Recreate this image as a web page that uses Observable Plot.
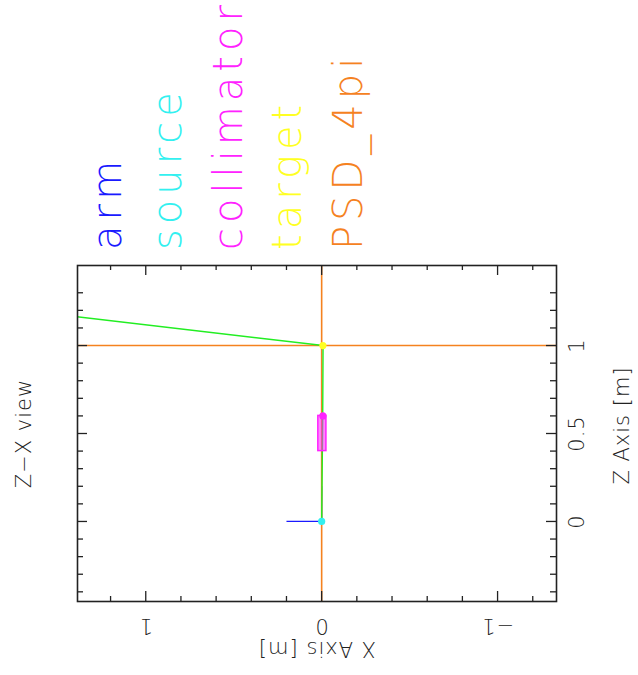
<!DOCTYPE html>
<html>
<head>
<meta charset="utf-8">
<script src="https://cdn.jsdelivr.net/npm/d3@7"></script>
<script src="https://cdn.jsdelivr.net/npm/@observablehq/plot@0.6"></script>
<style>
  body { margin: 0; background: #fff; }
  #wrap { width: 638px; }
  #legend { position: relative; height: 258px; width: 638px; overflow: hidden; }
  #legend span {
    position: absolute; top: 250px; transform-origin: 0 0; transform: rotate(-90deg);
    font-family: "DejaVu Sans", sans-serif; font-weight: 200; font-size: 40px;
    line-height: 1; white-space: nowrap; letter-spacing: 5px;
  }
  #chart svg text { letter-spacing: 1px; }
</style>
</head>
<body>
<div id="wrap">
  <div id="legend"></div>
  <div id="chart"></div>
</div>
<script>
// Components (legend order) and colours
const components = ["arm", "source", "collimator", "target", "PSD_4pi"];
const compColors = ["#1a1aff", "#33f0f0", "#ff22ff", "#ffff22", "#f5821f"];

// Component position dots (X, Z) in metres
const dotNames = ["source", "collimator", "target"];
const dotX = [0, -0.007, -0.007];
const dotZ = [0, 0.6, 1];

// Arm axis segments (from origin)
const armX2 = [0.2, 0];
const armZ2 = [0, 0.2];

// Collimator box
const colX = [0.019, -0.027];
const colZ = [0.4, 0.6];

// PSD_4pi lines
const psdX = [0];
const psdZ = [1];

// Neutron ray
const rayX = [0, -0.006, -0.008, 1.5];
const rayZ = [0, 0.6, 1, 1.176];

// Ticks
const xMajor = [-1, 0, 1];
const xMinor = [-1.2, -0.8, -0.6, -0.4, -0.2, 0.2, 0.4, 0.6, 0.8, 1.2];
const xLabels = ["−1", "0", "1"];
const zMajor = [0, 0.5, 1];
const zMinor = [-0.4, -0.3, -0.2, -0.1, 0.1, 0.2, 0.3, 0.4, 0.6, 0.7, 0.8, 0.9, 1.1, 1.2, 1.3];
const zLabels = ["0", "0.5", "1"];

// Legend (HTML, rotated)
const legendBase = [87, 147, 208, 267, 328];
const legend = document.getElementById("legend");
components.forEach((c, i) => {
  const s = document.createElement("span");
  s.textContent = c;
  s.style.color = compColors[i];
  s.style.left = legendBase[i] + "px";
  legend.appendChild(s);
});

const colorOf = n => compColors[components.indexOf(n)];
const dots = dotNames.map((n, i) => ({n, x: dotX[i], z: dotZ[i]}));
const arm = armX2.map((x, i) => ({x, z: armZ2[i]}));
const ray = rayX.map((x, i) => ({x, z: rayZ[i]}));

const W = 638, H = 417, mL = 77, mR = 82, mT = 7, mB = 74;
const fw = W - mL - mR, fh = H - mT - mB;
const ink = "#222";
const font = "\"DejaVu Sans\", sans-serif";
const lab = {fontSize: 21, fontWeight: 200, fill: ink, textAnchor: "middle", lineAnchor: "middle"};

const chart = Plot.plot({
  width: W, height: H,
  marginLeft: mL, marginRight: mR, marginTop: mT, marginBottom: mB,
  x: {domain: [1.388, -1.335], axis: null},
  y: {domain: [-0.455, 1.455], axis: null},
  style: {fontFamily: font, background: "#fff", overflow: "visible"},
  marks: [
    Plot.link(arm, {x1: 0, y1: 0, x2: "x", y2: "z", stroke: colorOf("arm"), strokeWidth: 1.3}),
    Plot.ruleX(psdX, {x: d => d, stroke: colorOf("PSD_4pi"), strokeWidth: 1.6}),
    Plot.ruleY(psdZ, {y: d => d, stroke: colorOf("PSD_4pi"), strokeWidth: 1.6}),
    Plot.line(ray, {x: "x", y: "z", stroke: "#22ee22", strokeWidth: 1.4, clip: "frame"}),
    Plot.rect([0], {x1: colX[0], x2: colX[1], y1: colZ[0], y2: colZ[1],
      fill: colorOf("collimator"), fillOpacity: 0.55, stroke: colorOf("collimator"), strokeWidth: 1.5}),
    Plot.dot(dots, {x: "x", y: "z", fill: d => colorOf(d.n), r: 3.6}),
    Plot.frame({stroke: ink, strokeWidth: 1.6}),
    // top/bottom ticks
    Plot.tickX(xMinor, {x: d => d, insetBottom: fh - 5, stroke: ink, strokeWidth: 1.3}),
    Plot.tickX(xMinor, {x: d => d, insetTop: fh - 5, stroke: ink, strokeWidth: 1.3}),
    Plot.tickX(xMajor, {x: d => d, insetBottom: fh - 10, stroke: ink, strokeWidth: 1.3}),
    Plot.tickX(xMajor, {x: d => d, insetTop: fh - 10, stroke: ink, strokeWidth: 1.3}),
    // left/right ticks
    Plot.tickY(zMinor, {y: d => d, insetRight: fw - 6, stroke: ink, strokeWidth: 1.3}),
    Plot.tickY(zMinor, {y: d => d, insetLeft: fw - 6, stroke: ink, strokeWidth: 1.3}),
    Plot.tickY(zMajor, {y: d => d, insetRight: fw - 10, stroke: ink, strokeWidth: 1.3}),
    Plot.tickY(zMajor, {y: d => d, insetLeft: fw - 10, stroke: ink, strokeWidth: 1.3}),
    // tick labels
    Plot.text(xMajor, {x: d => d, text: (d, i) => xLabels[i], frameAnchor: "bottom", dy: 24, rotate: 180, ...lab}),
    Plot.text(zMajor, {y: d => d, text: (d, i) => zLabels[i], frameAnchor: "right", dx: 21, rotate: -90, ...lab}),
    // axis labels
    Plot.text(["X Axis [m]"], {frameAnchor: "bottom", dy: 47, rotate: 180, ...lab}),
    Plot.text(["Z Axis [m]"], {frameAnchor: "right", dx: 66, dy: -8, rotate: -90, ...lab}),
    Plot.text(["Z\u2212X view"], {frameAnchor: "left", dx: -53, rotate: -90, ...lab})
  ]
});
document.getElementById("chart").appendChild(chart);
</script>
</body>
</html>
